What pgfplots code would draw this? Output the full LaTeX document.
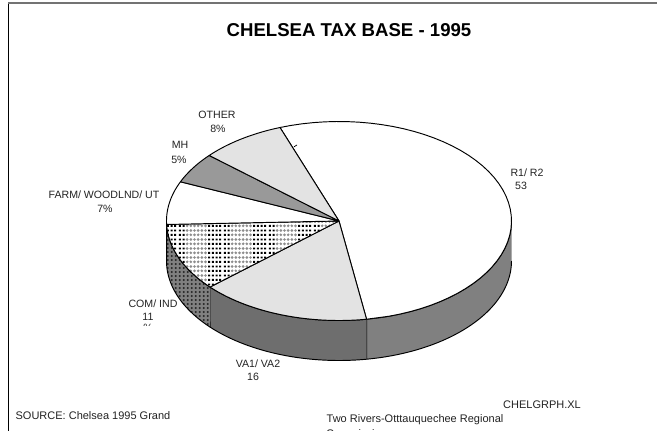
\documentclass[border=0pt]{standalone}
\usepackage{pgfplots}
\usepackage{pgfplotstable}
\usepackage{fontspec}
\setmainfont{Liberation Sans}
\pgfplotsset{compat=1.18}
\usetikzlibrary{patterns}

% Tax base shares, clockwise from the top of the pie
\pgfplotstableread{
name share
R1R2 53
VA 16
COM 11
FARM 7
MH 5
OTHER 8
}\taxbase

\definecolor{lightface}{HTML}{E3E3E3}
\definecolor{midface}{HTML}{999999}
\definecolor{wallA}{HTML}{808080}
\definecolor{wallB}{HTML}{6E6E6E}
\definecolor{labeltext}{HTML}{222222}

% Top face of COM/IND: bands of black squares and grey dots
\pgfdeclarepatterninherentlycolored{combands}{\pgfpointorigin}{\pgfpoint{44.4pt}{8.8pt}}{\pgfpoint{44.4pt}{8.8pt}}{%
  \pgfsetfillcolor{white}%
  \pgfpathrectangle{\pgfpointorigin}{\pgfpoint{44.4pt}{8.8pt}}\pgfusepath{fill}%
  \foreach \r in {0,1}{%
    \foreach \c in {8,9,10,11,0,1}{%
      \pgfsetfillcolor{black}%
      \pgfpathrectangle{\pgfpoint{\c*3.7pt+0.9pt}{\r*4.4pt+1.2pt}}{\pgfpoint{2pt}{2pt}}\pgfusepath{fill}%
    }%
    \foreach \c in {2,...,7}{%
      \pgfsetfillcolor{black!45}%
      \pgfpathcircle{\pgfpoint{\c*3.7pt+1.85pt}{\r*4.4pt+2.2pt}}{1.45pt}\pgfusepath{fill}%
    }%
  }%
}

% Side wall of COM/IND: dark dots on mid grey
\pgfdeclarepatterninherentlycolored{comwall}{\pgfpointorigin}{\pgfpoint{3.7pt}{4.4pt}}{\pgfpoint{3.7pt}{4.4pt}}{%
  \pgfsetfillcolor{black!50}%
  \pgfpathrectangle{\pgfpointorigin}{\pgfpoint{3.7pt}{4.4pt}}\pgfusepath{fill}%
  \pgfsetfillcolor{black!85}%
  \pgfpathcircle{\pgfpoint{1.85pt}{2.2pt}}{1.2pt}\pgfusepath{fill}%
}

% Slice of the top face between two angles
\newcommand{\topslice}[3]{%
  \addplot[draw=black,line width=0.95pt,line join=round,#3,
    samples at={-1,0,0.02,...,0.98,1,2},variable=\t]
    ({339+172.5*((\t<0||\t>1)?0:1)*cos(#1+(#2-#1)*\t)},
     {221-99.5*((\t<0||\t>1)?0:1)*sin(#1+(#2-#1)*\t)});}
% Side wall hanging below the rim between two angles
\newcommand{\wall}[3]{%
  \addplot[draw=black,line width=0.95pt,line join=round,#3,
    samples at={0,0.02,...,0.98,1,1.0001,1.02,1.04,...,1.98,2},variable=\t]
    ({339+172.5*cos(#1+(#2-#1)*((\t<=1)?\t:(2-\t)))},
     {221-99.5*sin(#1+(#2-#1)*((\t<=1)?\t:(2-\t)))+((\t>1)?40:0)});}

\newcommand{\lab}[3]{\node[anchor=base,inner sep=0pt,text=labeltext,font=\fontsize{10.6pt}{12pt}\selectfont] at (axis cs:#1,#2+4.5) {#3};}
\newcommand{\foot}[3]{\node[anchor=base,inner sep=0pt,text=labeltext,font=\fontsize{11pt}{13pt}\selectfont] at (axis cs:#1,#2+4.5) {#3};}

\begin{document}
\begin{tikzpicture}[x=1pt,y=1pt]
\useasboundingbox (0,0) rectangle (657,431);
\clip (0,0) rectangle (657,431);
\pgfplotstablegetelem{0}{share}\of\taxbase \pgfmathsetmacro{\aA}{110-3.6*\pgfplotsretval}
\pgfplotstablegetelem{1}{share}\of\taxbase \pgfmathsetmacro{\aB}{\aA-3.6*\pgfplotsretval}
\pgfplotstablegetelem{2}{share}\of\taxbase \pgfmathsetmacro{\aC}{\aB-3.6*\pgfplotsretval}
\pgfplotstablegetelem{3}{share}\of\taxbase \pgfmathsetmacro{\aD}{\aC-3.6*\pgfplotsretval}
\pgfplotstablegetelem{4}{share}\of\taxbase \pgfmathsetmacro{\aE}{\aD-3.6*\pgfplotsretval}
\pgfplotstablegetelem{5}{share}\of\taxbase \pgfmathsetmacro{\aF}{\aE-3.6*\pgfplotsretval}
\begin{axis}[
  at={(0,0)},anchor=south west,
  scale only axis,width=657pt,height=431pt,
  xmin=0,xmax=657,ymin=0,ymax=431,y dir=reverse,
  hide axis,clip=false]

% Side walls
\wall{0}{\aA}{fill=wallA}
\wall{\aA}{\aB}{fill=wallB}
\wall{\aB}{\aC}{pattern=comwall}

% Top faces
\topslice{110}{\aA}{fill=white}
\topslice{\aA}{\aB}{fill=lightface}
\topslice{\aB}{\aC}{pattern=combands}
\topslice{\aC}{\aD}{fill=white}
\topslice{\aD}{\aE}{fill=midface}
\topslice{\aE}{\aF}{fill=lightface}

% Short leader stub on the OTHER slice
\addplot[draw=black,line width=0.7pt] coordinates {(294,146.8) (297,145)};

% Page frame
\addplot[draw=black,line width=1pt] coordinates {(8.5,2) (8.5,431)};
\addplot[draw=black!55,line width=2pt] coordinates {(8,3) (657,3)};

\node[anchor=base,inner sep=0pt,font=\fontsize{18.6pt}{20pt}\bfseries] at (axis cs:349,36) {CHELSEA TAX BASE - 1995};

\lab{217}{114}{OTHER}
\lab{218}{128}{8\%}
\lab{180}{144}{MH}
\lab{179}{159}{5\%}
\lab{104}{194}{FARM/ WOODLND/ UT}
\lab{105}{208}{7\%}
\lab{153}{303}{COM/ IND}
\lab{148}{316}{11}
\lab{258}{363}{VA1/ VA2}
\lab{253}{376}{16}
\lab{527}{172}{R1/ R2}
\lab{521}{185}{53}
\foot{542}{404}{CHELGRPH.XL}
\foot{415}{418}{Two Rivers-Otttauquechee Regional}
\foot{93}{415}{SOURCE: Chelsea 1995 Grand}
\end{axis}

% Lines of text cut off by their frames
\begin{scope}
\clip (130,105) rectangle (170,107.2);
\node[anchor=base,inner sep=0pt,text=labeltext,font=\fontsize{10.6pt}{12pt}\selectfont] at (148,99) {\%};
\end{scope}
\node[anchor=base west,inner sep=0pt,text=labeltext,font=\fontsize{11pt}{13pt}\selectfont] at (326,-7) {Commission};
\end{tikzpicture}
\end{document}
